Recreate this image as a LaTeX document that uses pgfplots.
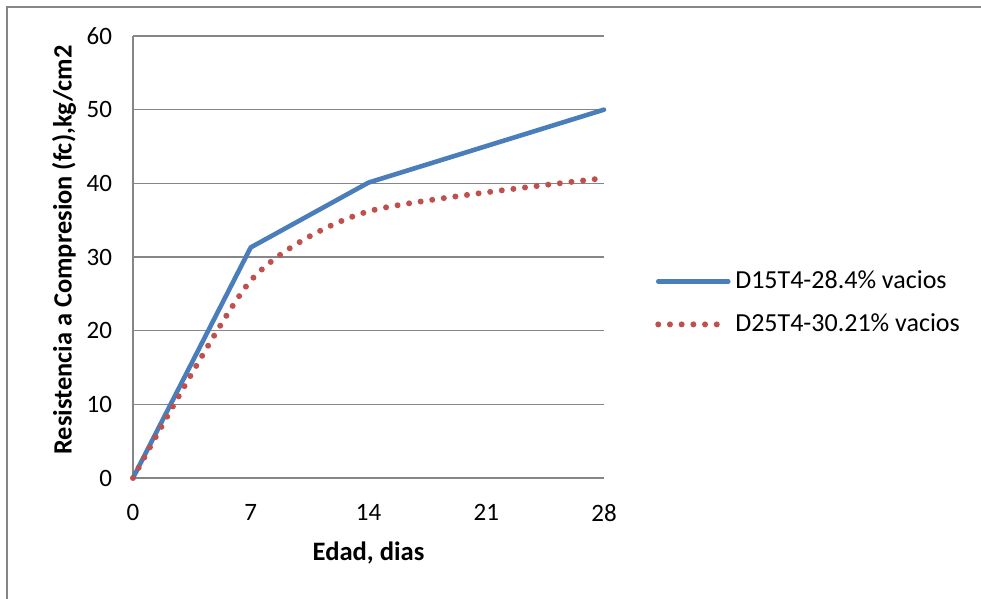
\documentclass[border=0pt]{standalone}
\usepackage{pgfplots}
\pgfplotsset{compat=1.18}
\usepackage{fontspec}
\setmainfont{Carlito}
\definecolor{sblue}{RGB}{74,126,187}
\definecolor{sred}{RGB}{192,80,77}
\definecolor{gridgray}{RGB}{134,134,134}
\begin{document}
\begin{tikzpicture}[x=1pt,y=1pt]
\useasboundingbox (0,0) rectangle (490.5,299.5);
\draw[gridgray, line width=0.8pt] (3.5,0) -- (3.5,296) -- (490.5,296);
\begin{axis}[
  at={(66.5pt,60.5pt)}, anchor=south west,
  scale only axis, width=235.5pt, height=221pt,
  xmin=0, xmax=28, ymin=0, ymax=60,
  xtick={0,7,14,21,28}, ytick={0,10,20,30,40,50,60},
  axis x line=bottom, axis y line=left,
  axis line style={gridgray, line width=0.6pt, -},
  ymajorgrids, grid style={gridgray, line width=0.6pt},
  major tick length=0pt,
  tick label style={font=\fontsize{12.5}{14}\selectfont},
  /pgf/number format/assume math mode=true,
  xticklabel shift=9.5pt, yticklabel shift=7pt,
  xlabel={Edad, dias},
  ylabel={Resistencia a Compresion (fc),kg/cm2},
  every axis x label/.style={at={(axis description cs:0.5,0)}, anchor=center, yshift=-37.5pt, font=\bfseries\fontsize{13.3}{15}\selectfont},
  every axis y label/.style={at={(axis description cs:0,0.5)}, anchor=center, rotate=90, yshift=34.5pt, xshift=3.5pt, font=\bfseries\fontsize{13.2}{15}\selectfont},
  legend style={at={(axis description cs:1.108,0.396)}, anchor=west, draw=none, fill=none,
    font=\fontsize{13}{15}\selectfont, row sep=7pt, inner sep=0pt},
  legend cell align=left,
  legend image code/.code={\draw[#1] (0pt,0pt) -- (35pt,0pt);},
  clip=false,
]
\addplot[sblue, line width=2.3pt, line cap=round, line join=round] coordinates {(0,0) (7,31.3) (14,40.1) (28,50)};
\addlegendentry{D15T4-28.4\% vacios}
\addplot[sred, line width=3pt, line cap=round, dash pattern=on 0pt off 5.85pt, smooth, tension=0.4] coordinates {(0,0) (7,26.8) (14,36.2) (28,40.7)};
\addlegendentry{D25T4-30.21\% vacios}
\end{axis}
\end{tikzpicture}
\end{document}
